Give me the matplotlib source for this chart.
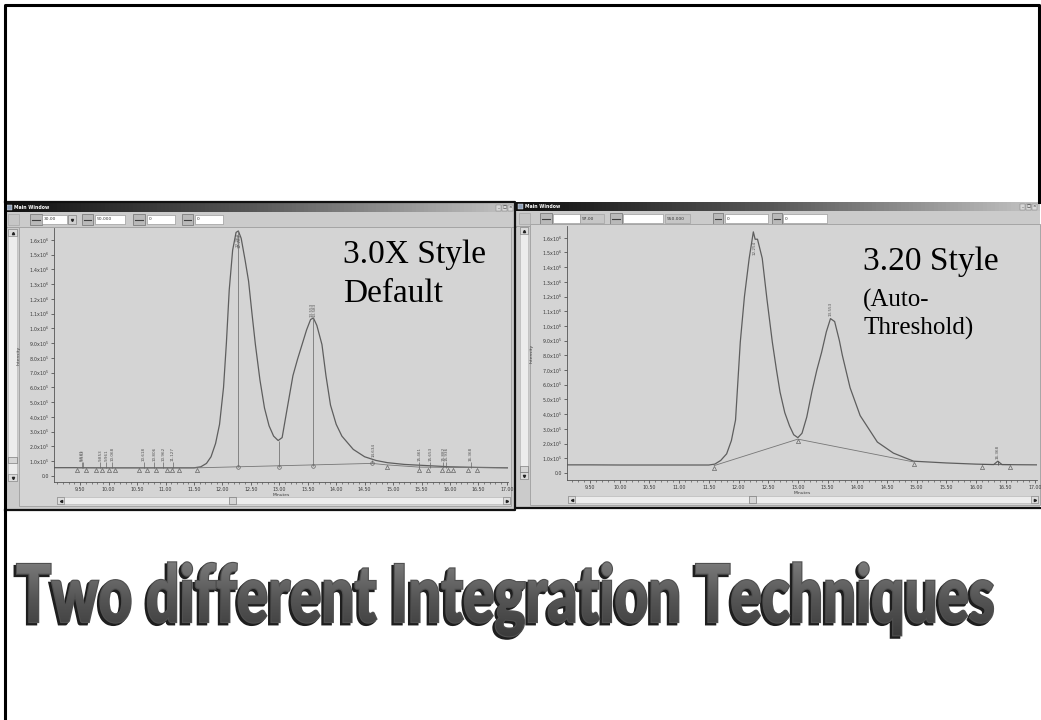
import numpy as np
import matplotlib
matplotlib.use("Agg")
import matplotlib.pyplot as plt
from matplotlib.patches import Rectangle, PathPatch
from matplotlib.textpath import TextPath
from matplotlib.font_manager import FontProperties
from matplotlib.transforms import Affine2D
from matplotlib.colors import LinearSegmentedColormap
from matplotlib.ticker import MultipleLocator

W, H = 1041, 720

# ---- chromatogram traces (minutes, counts) ----
rt_30x = [9.04, 9.50, 10.00, 10.50, 11.00, 11.50, 11.62, 11.72, 11.80, 11.88, 11.95,
          12.02, 12.07, 12.12, 12.18, 12.24, 12.28, 12.33, 12.40, 12.46, 12.52, 12.58,
          12.66, 12.74, 12.82, 12.90, 12.98, 13.05, 13.14, 13.24, 13.32, 13.40, 13.48,
          13.55, 13.60, 13.66, 13.75, 13.82, 13.90, 14.00, 14.10, 14.30, 14.50, 14.70,
          14.90, 15.20, 15.50, 16.00, 16.50, 17.02]
int_30x = [0.56, 0.56, 0.55, 0.55, 0.55, 0.55, 0.62, 0.85, 1.3, 2.2, 3.5,
           6.0, 9.0, 12.6, 15.3, 16.5, 16.6, 16.1, 14.6, 13.2, 11.0, 8.9,
           6.5, 4.6, 3.4, 2.7, 2.4, 2.6, 4.6, 6.8, 7.9, 8.9, 9.9,
           10.6, 10.7, 10.2, 8.9, 6.8, 4.8, 3.5, 2.7, 1.8, 1.3, 1.05,
           0.9, 0.78, 0.72, 0.62, 0.58, 0.55]

rt_320 = [9.11, 9.50, 10.00, 10.50, 11.00, 11.50, 11.60, 11.70, 11.80, 11.88, 11.95,
          12.03, 12.10, 12.18, 12.25, 12.28, 12.32, 12.40, 12.48, 12.57, 12.64, 12.70,
          12.78, 12.86, 12.93, 13.00, 13.07, 13.15, 13.24, 13.32, 13.40, 13.48, 13.55,
          13.62, 13.70, 13.75, 13.88, 14.05, 14.34, 14.61, 14.95, 15.50, 16.00, 16.30,
          16.37, 16.44, 16.70, 17.03]
int_320 = [0.55, 0.55, 0.54, 0.54, 0.54, 0.54, 0.6, 0.85, 1.3, 2.2, 3.6,
           8.9, 12.0, 14.6, 16.4, 15.9, 15.9, 14.6, 11.8, 8.9, 7.0, 5.5,
           4.1, 3.2, 2.6, 2.4, 2.7, 3.8, 5.6, 7.0, 8.2, 9.6, 10.5,
           10.3, 9.0, 8.0, 5.8, 3.9, 2.1, 1.35, 0.8, 0.68, 0.6, 0.57,
           0.8, 0.57, 0.56, 0.55]

# ---- integration events ----
# 3.0X default: drop lines from the baseline to the trace
drop_rt_30x = [12.28, 13.00, 13.60, 14.63]
drop_base_30x = [0.58, 0.61, 0.65, 0.85]
drop_top_30x = [16.6, 2.4, 10.7, 1.1]
base_rt_30x = [9.45, 11.56, 14.63, 14.89, 15.45, 17.02]
base_int_30x = [0.55, 0.55, 0.85, 0.75, 0.6, 0.55]
tri_rt_30x = [9.45, 9.61, 9.77, 9.88, 10.00, 10.12, 10.54, 10.67, 10.84, 11.02, 11.11,
              11.24, 11.56, 14.89, 15.45, 15.62, 15.86, 15.97, 16.06, 16.32, 16.47]
tri_int_30x = [0.38] * 13 + [0.6, 0.4, 0.4, 0.4, 0.4, 0.4, 0.4, 0.4]
small_rt_30x = [9.531, 9.552, 9.853, 9.961, 10.068, 10.618, 10.806, 10.962, 11.127,
                15.461, 15.653, 15.882, 15.936, 16.368]
small_lab_30x = ['9.531', '9.552', '9.853', '9.961', '10.068', '10.618', '10.806',
                 '10.962', '11.127', '15.461', '15.653', '15.882', '15.936', '16.368']
big_rt_30x = [12.27, 12.31, 13.57, 13.62, 14.65]
big_lab_30x = ['12.264', '12.283', '13.553', '13.583', '14.634']
big_int_30x = [16.5, 16.4, 10.8, 10.8, 1.3]

# 3.20 auto-threshold: valley-to-valley baseline
base_rt_320 = [11.59, 13.00, 14.95]
base_int_320 = [0.5, 2.3, 0.75]
base2_rt_320 = [16.11, 16.58]
base2_int_320 = [0.57, 0.56]
tri_rt_320 = [11.59, 13.00, 14.95, 16.11, 16.58]
tri_int_320 = [0.35, 2.15, 0.6, 0.42, 0.4]
lab_rt_320 = [12.27, 13.55, 16.37]
lab_320 = ['12.254', '13.553', '16.368']
lab_int_320 = [15.8, 10.7, 0.95]

x_ticks = [9.5, 10.0, 10.5, 11.0, 11.5, 12.0, 12.5, 13.0, 13.5, 14.0, 14.5, 15.0,
           15.5, 16.0, 16.5, 17.0]
x_tick_labels = ['9.50', '10.00', '10.50', '11.00', '11.50', '12.00', '12.50', '13.00',
                 '13.50', '14.00', '14.50', '15.00', '15.50', '16.00', '16.50', '17.00']
y_ticks = [0, 1, 2, 3, 4, 5, 6, 7, 8, 9, 10, 11, 12, 13, 14, 15, 16]
y_tick_labels = ['0.0'] + ['%.1fx10$^5$' % v for v in range(1, 10)] + \
                ['%.1fx10$^6$' % (v / 10) for v in range(10, 17)]

title = 'Two different Integration Techniques'

fig = plt.figure(figsize=(W / 100, H / 100), dpi=100)
fig.patch.set_facecolor('white')

bg = fig.add_axes([0, 0, 1, 1])
bg.set_autoscale_on(False)
bg.set_xlim(0, W)
bg.set_ylim(H, 0)
bg.axis('off')

bar_cmap = LinearSegmentedColormap.from_list('bar', ['#101010', '#5a5a5a', '#c4c4c4'])
ttl_cmap = LinearSegmentedColormap.from_list('ttl', ['#7c7c7c', '#555555', '#3a3a3a'])
CHROME = '#cbcbcb'
PANEL = '#d4d4d4'
TRACE = '#5e5e5e'


def box(x0, y0, x1, y1, fc, ec='none', lw=0.6, z=2):
    bg.add_patch(Rectangle((x0, y0), x1 - x0, y1 - y0, fc=fc, ec=ec, lw=lw, zorder=z))


def window(x0, y0, x1, y1, fields, vbar, hbar, panel):
    box(x0, y0, x1, y1, CHROME, z=1)
    bg.imshow(np.linspace(0, 1, 128)[None, :], cmap=bar_cmap, aspect='auto',
              extent=(x0, x1, y0 + 9, y0), zorder=2)
    box(x0 + 2, y0 + 2, x0 + 7, y0 + 7, '#8fa0b8', '#eeeeee', 0.3, 3)
    bg.text(x0 + 9, y0 + 4.8, 'Main Window', color='white', fontsize=3.3,
            weight='bold', va='center', zorder=3)
    for k, s in enumerate(['_', '□', '×']):
        bx = x1 - 20 + k * 6
        box(bx, y0 + 2, bx + 5, y0 + 7.5, '#d8d8d8', '#777777', 0.3, 3)
        bg.text(bx + 2.5, y0 + 4.6, s, fontsize=3, ha='center', va='center',
                color='#222222', zorder=4)
    # toolbar
    box(x0 + 3, y0 + 11, x0 + 14, y0 + 22, '#c6c6c6', '#a0a0a0', 0.4)
    for ix0, ix1, tx0, tx1, txt, white in fields:
        box(ix0, y0 + 11, ix1, y0 + 22, '#b9b9b9', '#707070', 0.5)
        bg.plot([ix0 + 2, ix1 - 2], [y0 + 16.5, y0 + 16.5], color='#404040', lw=0.8, zorder=3)
        box(tx0, y0 + 12, tx1, y0 + 21, 'white' if white else '#c4c4c4', '#8a8a8a', 0.4)
        bg.text(tx0 + 1.5, y0 + 16.5, txt, fontsize=3.2, va='center', color='#333333', zorder=3)
    bg.plot([x0, x1], [y0 + 24, y0 + 24], color='#9a9a9a', lw=0.6, zorder=2)
    # plot panel
    box(*panel, PANEL, '#a5a5a5', 0.7, 2)
    # vertical scrollbar
    vx0, vy0, vx1, vy1, thumb = vbar
    box(vx0, vy0, vx1, vy1, '#ececec', '#b0b0b0', 0.4, 3)
    box(vx0, vy0, vx1, vy0 + 7, '#dcdcdc', '#777777', 0.4, 3)
    box(vx0, vy1 - 7, vx1, vy1, '#dcdcdc', '#777777', 0.4, 3)
    box(vx0, thumb, vx1, thumb + 6, '#d6d6d6', '#666666', 0.4, 3)
    bg.plot((vx0 + vx1) / 2, vy0 + 3.5, marker='^', ms=1.6, color='#222222', zorder=4)
    bg.plot((vx0 + vx1) / 2, vy1 - 3.5, marker='v', ms=1.6, color='#222222', zorder=4)
    # horizontal scrollbar
    hx0, hy0, hx1, hy1, hthumb = hbar
    box(hx0, hy0, hx1, hy1, '#ececec', '#b0b0b0', 0.4, 3)
    box(hx0, hy0, hx0 + 7, hy1, '#dcdcdc', '#777777', 0.4, 3)
    box(hx1 - 7, hy0, hx1, hy1, '#dcdcdc', '#777777', 0.4, 3)
    box(hthumb, hy0, hthumb + 7, hy1, '#d6d6d6', '#666666', 0.4, 3)
    bg.plot(hx0 + 3.5, (hy0 + hy1) / 2, marker='<', ms=1.6, color='#222222', zorder=4)
    bg.plot(hx1 - 3.5, (hy0 + hy1) / 2, marker='>', ms=1.6, color='#222222', zorder=4)


window(5, 203, 516, 511,
       [(30, 42, 42, 67, '30.00', True), (82, 93, 95, 125, '50.000', True),
        (133, 145, 147, 175, '0', True), (182, 193, 195, 223, '0', True)],
       (8, 229, 17, 481, 457), (57, 497, 510, 504, 229), (19, 227, 511, 506))
box(68, 215, 76, 224, '#d0d0d0', '#707070', 0.4, 3)
bg.plot(72, 219.5, marker='v', ms=1.5, color='#222222', zorder=4)

window(516, 202, 1040, 509,
       [(540, 552, 553, 580, '', True), (610, 622, 623, 663, '', True),
        (713, 723, 725, 768, '0', True), (772, 782, 783, 827, '0', True)],
       (520, 227, 528, 479, 466), (568, 496, 1038, 503, 749), (530, 224, 1040, 505))
for tx0, tx1, txt in [(580, 604, '97.00'), (665, 690, '950.000')]:
    box(tx0, 214, tx1, 223, '#c6c6c6', '#9a9a9a', 0.4, 3)
    bg.text(tx0 + 1.5, 218.5, txt, fontsize=3.2, va='center', color='#333333', zorder=4)


def chrom_axes(x0, y0, x1, y1, xlim, ylim):
    ax = fig.add_axes([x0 / W, 1 - y1 / H, (x1 - x0) / W, (y1 - y0) / H])
    ax.set_facecolor('none')
    ax.set_xlim(*xlim)
    ax.set_ylim(*ylim)
    for s in ('top', 'right'):
        ax.spines[s].set_visible(False)
    for s in ('left', 'bottom'):
        ax.spines[s].set_color('#555555')
        ax.spines[s].set_linewidth(0.6)
    ax.set_xticks(x_ticks)
    ax.set_xticklabels(x_tick_labels)
    ax.set_yticks(y_ticks)
    ax.set_yticklabels(y_tick_labels)
    ax.xaxis.set_minor_locator(MultipleLocator(0.1))
    ax.tick_params(length=2.2, width=0.5, labelsize=3.4, pad=1.5, colors='#3a3a3a')
    ax.tick_params(which='minor', length=1.3, width=0.4, colors='#3a3a3a')
    ax.set_xlabel('Minutes', fontsize=3.2, labelpad=0.5, color='#3a3a3a')
    ax.set_ylabel('Intensity', fontsize=3.2, labelpad=6, color='#3a3a3a')
    return ax


def vlabels(ax, rts, labs, ys, va, fs=3.0):
    for r, s, y in zip(rts, labs, ys):
        ax.text(r, y, s, rotation=90, fontsize=fs, ha='center', va=va, color='#555555')


ax1 = chrom_axes(54, 228, 508, 482, (9.04, 17.02), (-0.41, 16.8))
ax1.plot(rt_30x, int_30x, color=TRACE, lw=0.9)
ax1.plot(base_rt_30x, base_int_30x, color='#767676', lw=0.6)
ax1.vlines(drop_rt_30x, drop_base_30x, drop_top_30x, color='#767676', lw=0.6)
ax1.plot(drop_rt_30x, drop_base_30x, 'o', ms=2.6, mfc='none', mec='#666666', mew=0.5)
ax1.plot(tri_rt_30x, tri_int_30x, '^', ms=3.0, mfc='none', mec='#666666', mew=0.5)
ax1.vlines(small_rt_30x, [0.55] * len(small_rt_30x), [0.95] * len(small_rt_30x),
           color='#666666', lw=0.5)
vlabels(ax1, small_rt_30x, small_lab_30x, [1.0] * len(small_rt_30x), 'bottom')
vlabels(ax1, big_rt_30x[:2], big_lab_30x[:2], big_int_30x[:2], 'top')
vlabels(ax1, big_rt_30x[2:], big_lab_30x[2:], big_int_30x[2:], 'bottom')

ax2 = chrom_axes(567, 226, 1037, 480, (9.11, 17.03), (-0.48, 16.8))
ax2.plot(rt_320, int_320, color=TRACE, lw=0.9)
ax2.plot(base_rt_320, base_int_320, color='#767676', lw=0.6)
ax2.plot(base2_rt_320, base2_int_320, color='#555555', lw=0.6)
ax2.plot(tri_rt_320, tri_int_320, '^', ms=3.0, mfc='none', mec='#666666', mew=0.5)
ax2.vlines([16.37], [0.57], [0.8], color='#555555', lw=0.6)
vlabels(ax2, lab_rt_320[:1], lab_320[:1], lab_int_320[:1], 'top')
vlabels(ax2, lab_rt_320[1:], lab_320[1:], lab_int_320[1:], 'bottom')

# overlay: window frames, captions, slide border and title
top = fig.add_axes([0, 0, 1, 1])
top.set_autoscale_on(False)
top.set_xlim(0, W)
top.set_ylim(H, 0)
top.axis('off')
top.set_facecolor('none')

top.plot([5, 515, 515, 5], [202, 202, 510, 510], color='#111111', lw=1.6)
top.plot([517, 1040], [508, 508], color='#111111', lw=1.6)
top.plot([5, 5, 1039, 1039], [H, 5, 5, 202], color='black', lw=2.2)

serif = ['Liberation Serif', 'DejaVu Serif']
top.text(343, 263, '3.0X Style', family=serif, fontsize=24, va='baseline')
top.text(343, 302, 'Default', family=serif, fontsize=24, va='baseline')
top.text(863, 270, '3.20 Style', family=serif, fontsize=24, va='baseline')
top.text(863, 307, '(Auto-', family=serif, fontsize=18, va='baseline')
top.text(863, 335, 'Threshold)', family=serif, fontsize=18, va='baseline')

# heavy condensed title: glyph outlines stretched to the slide width
fp = FontProperties(family=['Lato', 'DejaVu Sans'], weight='black')
tp = TextPath((0, 0), title, size=100, prop=fp)
cap = TextPath((0, 0), 'T', size=100, prop=fp).get_extents()
ext = tp.get_extents()
tx0, tx1, t_base, t_cap = 17, 993, 622, 58
sx = (tx1 - tx0) / ext.width
sy = t_cap / cap.height
tr = Affine2D().translate(-ext.x0, 0).scale(sx, -sy).translate(tx0, t_base)
tpath = tr.transform_path(tp)
shadow = Affine2D().translate(-2.2, 2.2).transform_path(tpath)
top.add_patch(PathPatch(shadow, fc='#1e1e1e', ec='#1e1e1e', lw=1.8, zorder=5))
face = PathPatch(tpath, fc='#555555', ec='#505050', lw=1.6, zorder=6)
top.add_patch(face)
im = top.imshow(np.linspace(0, 1, 100)[:, None], cmap=ttl_cmap, aspect='auto',
                extent=(tx0 - 3, tx1 + 3, t_base + 16, t_base - t_cap - 4), zorder=7)
im.set_clip_path(face)

fig.savefig('out.png', dpi=100, facecolor='white')
